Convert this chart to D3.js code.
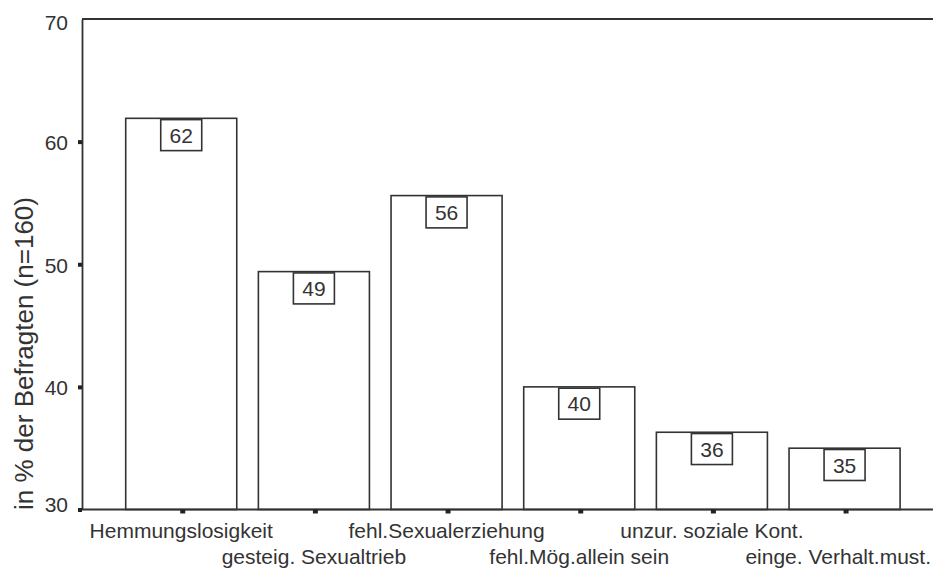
<!DOCTYPE html>
<html>
<head>
<meta charset="utf-8">
<script src="https://cdn.jsdelivr.net/npm/d3@7"></script>
<style>
  html, body { margin: 0; padding: 0; background: #fff; }
  svg { display: block; font-family: "Liberation Sans", Arial, sans-serif; }
</style>
</head>
<body>
<svg id="chart" width="933" height="569"></svg>
<script>
// Gründe (Anteil der Befragten in %, n = 160)
const categories = [
  "Hemmungslosigkeit",
  "gesteig. Sexualtrieb",
  "fehl.Sexualerziehung",
  "fehl.Mög.allein sein",
  "unzur. soziale Kont.",
  "einge. Verhalt.must."
];
const percentages = [61.9, 49.4, 55.6, 40.0, 36.3, 35.0];
const yTicks = [30, 40, 50, 60, 70];
const yTitle = "in % der Befragten (n=160)";

const svg = d3.select("#chart");
const ink = "#333";
const width = +svg.attr("width");

const plotLeft = 82, plotRight = 933, plotTop = 19, plotBottom = 509.5;

const y = d3.scaleLinear().domain([30, 70]).range([plotBottom, plotTop]);
const x = d3.scaleBand()
  .domain(categories)
  .range([114.9, 910.9])
  .paddingInner(0.163)
  .paddingOuter(0.0815);

// top rule of the frame
svg.append("line")
  .attr("x1", plotLeft).attr("x2", plotRight).attr("y1", plotTop).attr("y2", plotTop)
  .attr("stroke", ink).attr("stroke-width", 1.8);

// bars
const bars = svg.append("g");
bars.selectAll("rect")
  .data(percentages)
  .join("rect")
  .attr("x", (d, i) => x(categories[i]))
  .attr("y", d => y(d))
  .attr("width", x.bandwidth())
  .attr("height", d => y(30) - y(d))
  .attr("fill", "#fff")
  .attr("stroke", ink)
  .attr("stroke-width", 1.6);

// value boxes
const fmt = d3.format(".0f");
const boxW = 41, boxH = 31;
const labels = svg.append("g");
labels.selectAll("rect")
  .data(percentages)
  .join("rect")
  .attr("x", (d, i) => x(categories[i]) + x.bandwidth() / 2 - boxW / 2)
  .attr("y", d => y(d) + 1.3)
  .attr("width", boxW)
  .attr("height", boxH)
  .attr("fill", "#fff")
  .attr("stroke", ink)
  .attr("stroke-width", 1.6);
labels.selectAll("text")
  .data(percentages)
  .join("text")
  .attr("x", (d, i) => x(categories[i]) + x.bandwidth() / 2)
  .attr("y", d => y(d) + 1.3 + boxH / 2)
  .attr("dy", "0.36em")
  .attr("text-anchor", "middle")
  .attr("font-size", 21)
  .attr("fill", ink)
  .text(d => fmt(d));

// y axis
const yAxis = svg.append("g")
  .attr("transform", `translate(${plotLeft},0)`)
  .call(d3.axisLeft(y).tickValues(yTicks).tickSizeInner(4).tickSizeOuter(0).tickPadding(10));
yAxis.select(".domain").attr("stroke", ink).attr("stroke-width", 1.8);
yAxis.selectAll(".tick line")
  .attr("stroke", "#222").attr("stroke-width", 4)
  .attr("opacity", d => d === 70 ? 0 : 1);
yAxis.selectAll(".tick text")
  .attr("font-size", 21)
  .attr("font-family", "Liberation Sans, Arial, sans-serif")
  .attr("fill", ink)
  .attr("dy", d => d === 70 ? "0.52em" : d === 30 ? "0.08em" : "0.38em");

// x axis
const xAxis = svg.append("g")
  .attr("transform", `translate(0,${plotBottom})`)
  .call(d3.axisBottom(x).tickSizeInner(4).tickSizeOuter(0));
xAxis.select(".domain").remove();
xAxis.insert("line", ":first-child")
  .attr("x1", plotLeft).attr("x2", plotRight)
  .attr("stroke", ink).attr("stroke-width", 1.8);
xAxis.selectAll(".tick line")
  .attr("stroke", "#222").attr("stroke-width", 5)
  .attr("transform", "translate(1.5,0)");
xAxis.selectAll(".tick text")
  .attr("font-size", 21)
  .attr("font-family", "Liberation Sans, Arial, sans-serif")
  .attr("fill", ink)
  .attr("dy", null)
  .attr("y", (d, i) => i % 2 === 0 ? 28.5 : 54)
  .each(function () {
    // keep labels inside the canvas: pull back any that overrun the right edge
    const tick = this.parentNode;
    const tx = +tick.getAttribute("transform").match(/translate\(([-\d.]+)/)[1];
    const b = this.getBBox();
    const overrun = tx + b.x + b.width - (width - 2);
    if (overrun > 0) d3.select(this).attr("x", -overrun);
  });

// y axis title
svg.append("text")
  .attr("transform", `translate(33,${(195 + 512) / 2}) rotate(-90)`)
  .attr("text-anchor", "middle")
  .attr("font-size", 26)
  .attr("fill", ink)
  .text(yTitle);
</script>
</body>
</html>
